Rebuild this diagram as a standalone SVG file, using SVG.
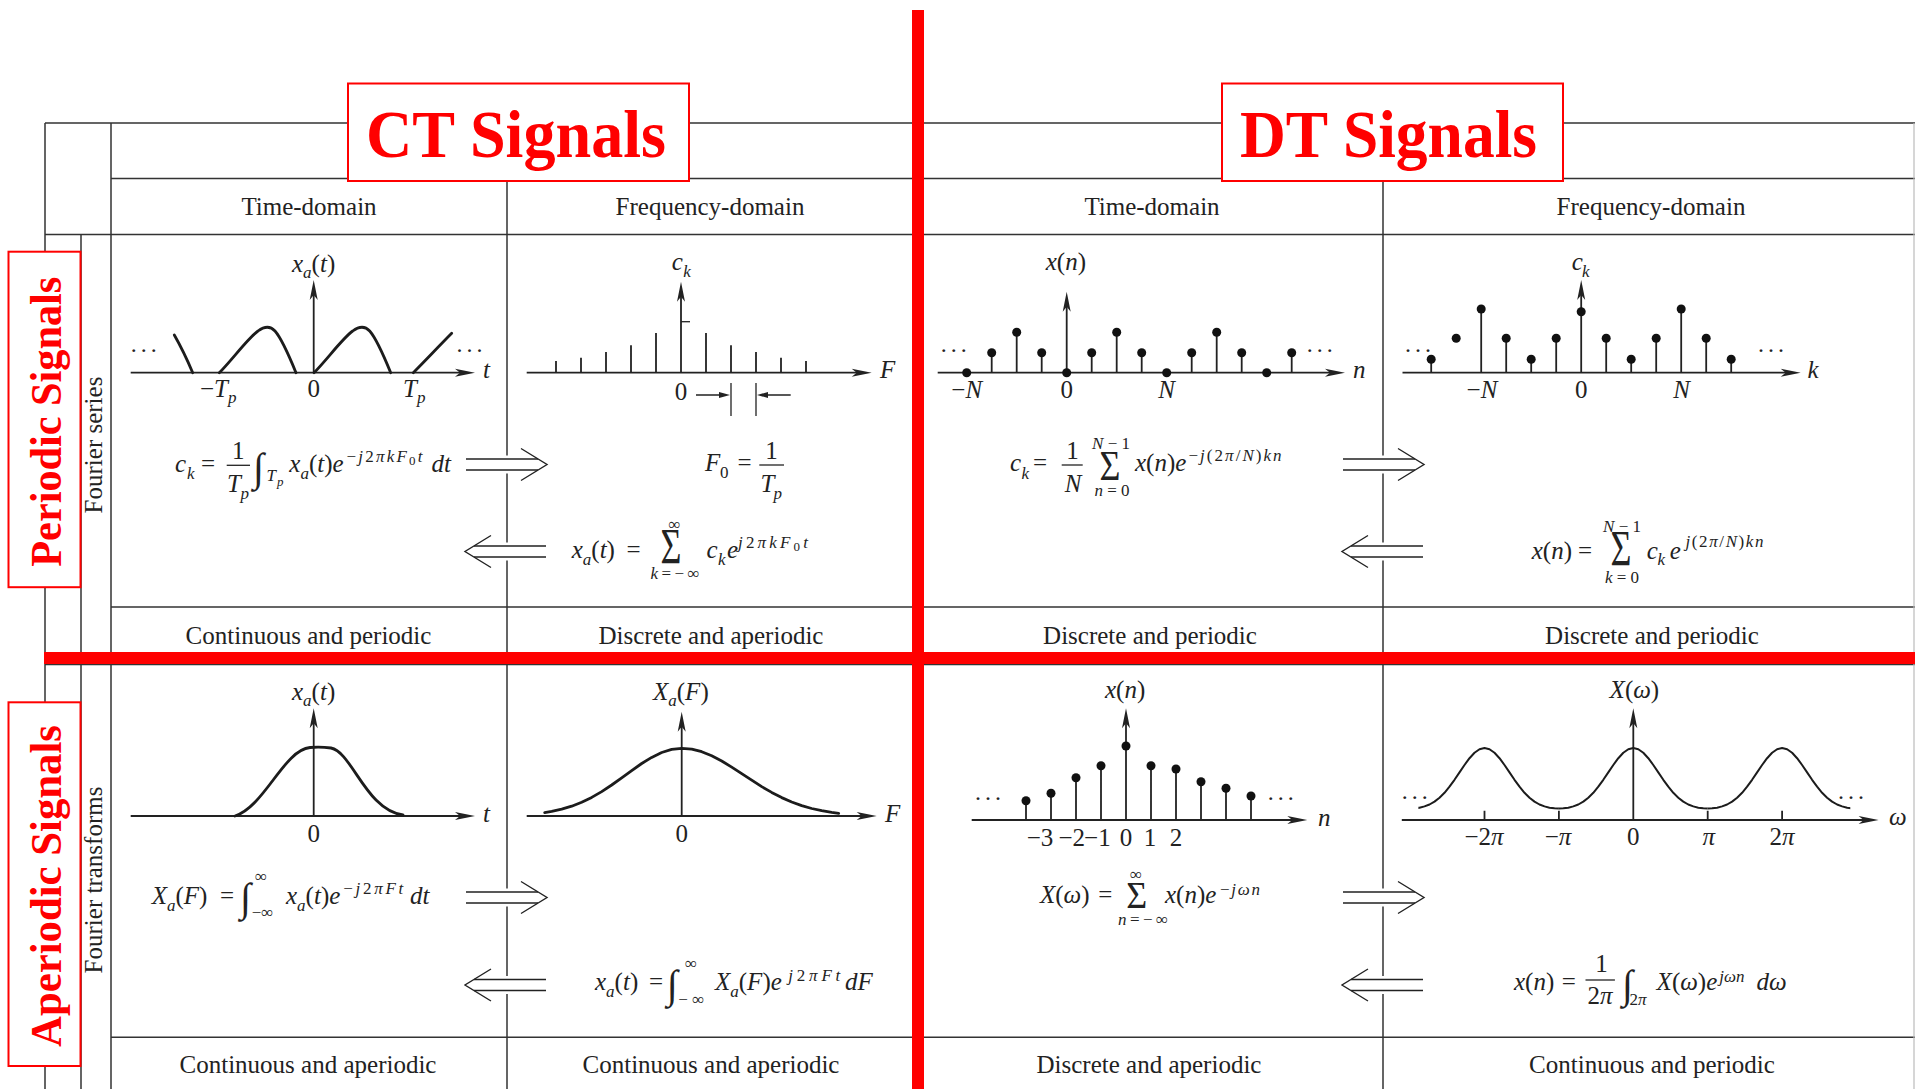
<svg xmlns="http://www.w3.org/2000/svg" xmlns:xlink="http://www.w3.org/1999/xlink" width="1915" height="1089" viewBox="0 0 1915 1089">
<style>
.f{font-family:"Liberation Serif","Times New Roman",serif;fill:#222}
.t{font-size:25px;text-anchor:middle}
.m{font-size:25px}
.s{font-size:17px}
.x{font-size:13px}
.i{font-style:italic}
.c{text-anchor:middle}
.e{text-anchor:end}
.int{font-size:40px;font-style:italic}
.sig{font-size:36px;text-anchor:middle}
.dots{font-size:24px;letter-spacing:2px}
.g{stroke:#333;stroke-width:1.5;fill:none}
.ax{stroke:#222;stroke-width:1.8;fill:none}
.thin{stroke:#222;stroke-width:1.3;fill:none}
.fr{stroke:#222;stroke-width:1.3}
.cv{stroke:#1c1c1c;stroke-width:2.8;fill:none;stroke-linecap:round;stroke-linejoin:round}
.cv2{stroke:#1c1c1c;stroke-width:2;fill:none;stroke-linejoin:round}
.stm{stroke:#222;stroke-width:1.8}
.dt{fill:#111}
.hl{stroke:#222;stroke-width:1.4;fill:none}
.rb{fill:#fff;stroke:#ff0000;stroke-width:2}
.rt{font-family:"Liberation Serif","Times New Roman",serif;font-weight:bold;fill:#ff0000}
.ah{fill:#222}
</style>
<defs>
<path id="ar" class="ah" d="M0,0 L-20,-4 L-15,0 L-20,4 Z"/>
<path id="au" class="ah" d="M0,0 L-4,20 L0,15 L4,20 Z"/>
<path id="sr" class="ah" d="M0,0 L-11,-3 L-11,3 Z"/>
<path id="sl" class="ah" d="M0,0 L11,-3 L11,3 Z"/>
<g id="hra"><rect x="0" y="-9" width="73" height="18" fill="#fff"/><path class="hl" d="M0,-5.5 H72 M0,5.5 H72"/><path class="hl" d="M55,-16 L81,0 L55,16"/></g>
<g id="hla"><rect x="8" y="-9" width="73" height="18" fill="#fff"/><path class="hl" d="M81,-5.5 H9 M81,5.5 H9"/><path class="hl" d="M26,-16 L0,0 L26,16"/></g>
<path id="lobe" d="M-74.4,808.5 L-70,808.3 L-65,807.7 L-60,806.4 L-55,804.5 L-50,801.6 L-45,797.7 L-40,792.8 L-35,786.7 L-30,779.8 L-25,772.4 L-20,765 L-15,758.2 L-10,752.8 L-5,749.2 L0,748 L5,749.2 L10,752.8 L15,758.2 L20,765 L25,772.4 L30,779.8 L35,786.7 L40,792.8 L45,797.7 L50,801.6 L55,804.5 L60,806.4 L65,807.7 L70,808.3 L74.4,808.5"/>
<clipPath id="cw"><rect x="1418.4" y="700" width="431.9" height="130"/></clipPath>
</defs>
<rect width="1915" height="1089" fill="#fff"/>

<g id="grid">
<path class="g" d="M45,123 H1915 M111,178.5 H1915 M45,234.5 H1915 M111,607 H1915 M45,664.5 H1915 M111,1037.3 H1915"/>
<path class="g" d="M45,123 V1089 M81,234.5 V1089 M111,123 V1089 M507,178.5 V1089 M1383,178.5 V1089"/>
<path d="M1914,123 V1089" stroke="#bbb" stroke-width="1.2"/>
</g>

<g id="headers">
<text class="f t" x="309" y="214.5">Time-domain</text>
<text class="f t" x="710" y="214.5">Frequency-domain</text>
<text class="f t" x="1152" y="214.5">Time-domain</text>
<text class="f t" x="1651" y="214.5">Frequency-domain</text>
<text class="f t" transform="translate(101.5,445) rotate(-90)">Fourier series</text>
<text class="f t" transform="translate(101.5,880) rotate(-90)">Fourier transforms</text>
</g>

<g id="footers">
<text class="f t" x="308.5" y="644">Continuous and periodic</text>
<text class="f t" x="711" y="644">Discrete and aperiodic</text>
<text class="f t" x="1150" y="644">Discrete and periodic</text>
<text class="f t" x="1652" y="644">Discrete and periodic</text>
<text class="f t" x="308" y="1072.5">Continuous and aperiodic</text>
<text class="f t" x="711" y="1072.5">Continuous and aperiodic</text>
<text class="f t" x="1149" y="1072.5">Discrete and aperiodic</text>
<text class="f t" x="1652" y="1072.5">Continuous and periodic</text>
</g>

<!-- Row 1, CT time -->
<g id="ct-periodic-time">
<line class="ax" x1="130.7" y1="372.7" x2="462" y2="372.7"/>
<use xlink:href="#ar" x="475" y="372.7"/>
<line class="ax" x1="313.7" y1="372.7" x2="313.7" y2="293"/>
<use xlink:href="#au" x="313.7" y="280"/>
<path class="cv" d="M174.3,335 Q184,352 192.7,372.7"/>
<path class="cv" d="M219.3,372.7 C232,360 248,338 258,331 C264,326.5 270,325.5 275,331 C282,339 290,358 296,372.7"/>
<path class="cv" d="M314,372.7 C326.7,360 342.7,338 352.7,331 C358.7,326.5 364.7,325.5 369.7,331 C376.7,339 384.7,358 390.7,372.7"/>
<path class="cv" d="M413.3,372.7 C425,361 440,345 451.7,333.3"/>
<text class="f m" x="292" y="271.7"><tspan class="i">x</tspan><tspan class="s i" dy="6">a</tspan><tspan dy="-6">(</tspan><tspan class="i">t</tspan>)</text>
<text class="f m" x="200" y="396.7">−<tspan class="i">T</tspan><tspan class="s i" dy="6">p</tspan></text>
<text class="f m c" x="313.7" y="396.7">0</text>
<text class="f m" x="403" y="396.7"><tspan class="i">T</tspan><tspan class="s i" dy="6">p</tspan></text>
<text class="f m i" x="483" y="378">t</text>
<text class="f dots" x="129.7" y="358">···</text>
<text class="f dots" x="455.5" y="358">···</text>
<text class="f m i" x="175" y="471.5">c</text>
<text class="f s i" x="187" y="479">k</text>
<text class="f m" x="201" y="471.5">=</text>
<text class="f m c" x="238.3" y="459.3">1</text>
<line class="fr" x1="226.7" y1="465.3" x2="250" y2="465.3"/>
<text class="f m i" x="227" y="492">T</text>
<text class="f s i" x="240.5" y="499">p</text>
<text class="f int" x="253" y="481">∫</text>
<text class="f s i" x="266.5" y="481">T</text>
<text class="f x i" x="277" y="486">p</text>
<text class="f m" x="289.3" y="471.5"><tspan class="i">x</tspan><tspan class="s i" dy="7">a</tspan><tspan dy="-7">(</tspan><tspan class="i">t</tspan>)<tspan class="i">e</tspan></text>
<text class="f s" x="346.5" y="462" textLength="76">−<tspan class="i">j</tspan>2<tspan class="i">πkF</tspan><tspan class="x" dy="3">0</tspan><tspan class="i" dy="-3">t</tspan></text>
<text class="f m i" x="431.5" y="471.5">dt</text>
</g>

<!-- Row 1, CT frequency -->
<g id="ct-periodic-freq">
<line class="ax" x1="526.7" y1="372.7" x2="859" y2="372.7"/>
<use xlink:href="#ar" x="871.7" y="372.7"/>
<line class="ax" x1="681" y1="372.7" x2="681" y2="295"/>
<use xlink:href="#au" x="681" y="281.7"/>
<line class="thin" x1="681" y1="321.7" x2="690" y2="321.7"/>
<path class="stm" d="M556,372.7 V361 M581,372.7 V357.7 M606,372.7 V352 M631,372.7 V345.3 M656,372.7 V333 M706,372.7 V333 M731,372.7 V345.3 M756,372.7 V352 M781,372.7 V357.7 M806,372.7 V361"/>
<path class="thin" d="M731,383 V416 M756,383 V416 M696,395 H722 M765,395 H790.7"/>
<use xlink:href="#sr" x="730" y="395"/>
<use xlink:href="#sl" x="757" y="395"/>
<text class="f m i" x="671.7" y="270">c</text>
<text class="f s i" x="683.3" y="276.5">k</text>
<text class="f m i" x="880" y="378">F</text>
<text class="f m c" x="681" y="399.5">0</text>
<text class="f m i" x="705" y="471.3">F</text>
<text class="f s" x="720" y="478">0</text>
<text class="f m" x="737.5" y="471.3">=</text>
<text class="f m c" x="771.5" y="459.3">1</text>
<line class="fr" x1="759.3" y1="465" x2="784" y2="465"/>
<text class="f m i" x="760.5" y="492">T</text>
<text class="f s i" x="773.5" y="499">p</text>
<text class="f m" x="571.7" y="558"><tspan class="i">x</tspan><tspan class="s i" dy="7">a</tspan><tspan dy="-7">(</tspan><tspan class="i">t</tspan>)</text>
<text class="f m" x="626.5" y="558">=</text>
<text class="f sig" transform="translate(671,563) scale(1,1.38)">Σ</text>
<text class="f s c" x="674.5" y="530">∞</text>
<text class="f s c" x="675" y="579" textLength="49"><tspan class="i">k</tspan>=−∞</text>
<text class="f m i" x="706.5" y="558">c</text>
<text class="f s i" x="718" y="565">k</text>
<text class="f m i" x="727" y="558">e</text>
<text class="f s" x="738" y="548" textLength="70"><tspan class="i">j</tspan>2<tspan class="i">πkF</tspan><tspan class="x" dy="3">0</tspan><tspan class="i" dy="-3">t</tspan></text>
</g>

<!-- Row 1, DT time -->
<g id="dt-periodic-time">
<line class="ax" x1="937.7" y1="372.7" x2="1332" y2="372.7"/>
<use xlink:href="#ar" x="1345" y="372.7"/>
<line class="ax" x1="1066.7" y1="372.7" x2="1066.7" y2="305"/>
<use xlink:href="#au" x="1066.7" y="291.7"/>
<path class="stm" d="M991.7,372.7 V352.7 M1016.7,372.7 V332.3 M1041.7,372.7 V352.7 M1091.7,372.7 V352.7 M1116.7,372.7 V332.3 M1141.7,372.7 V352.7 M1191.7,372.7 V352.7 M1216.7,372.7 V332.3 M1241.7,372.7 V352.7 M1291.7,372.7 V352.7"/>
<g class="dt">
<circle cx="966.7" cy="372.7" r="4.5"/><circle cx="991.7" cy="352.7" r="4.5"/><circle cx="1016.7" cy="332.3" r="4.5"/><circle cx="1041.7" cy="352.7" r="4.5"/><circle cx="1066.7" cy="372.7" r="4.5"/><circle cx="1091.7" cy="352.7" r="4.5"/><circle cx="1116.7" cy="332.3" r="4.5"/><circle cx="1141.7" cy="352.7" r="4.5"/><circle cx="1166.7" cy="372.7" r="4.5"/><circle cx="1191.7" cy="352.7" r="4.5"/><circle cx="1216.7" cy="332.3" r="4.5"/><circle cx="1241.7" cy="352.7" r="4.5"/><circle cx="1266.7" cy="372.7" r="4.5"/><circle cx="1291.7" cy="352.7" r="4.5"/>
</g>
<text class="f m" x="1045.7" y="270"><tspan class="i">x</tspan>(<tspan class="i">n</tspan>)</text>
<text class="f m i" x="1353" y="378">n</text>
<text class="f m c" x="966.7" y="398">−<tspan class="i">N</tspan></text>
<text class="f m c" x="1066.7" y="398">0</text>
<text class="f m c i" x="1166.7" y="398">N</text>
<text class="f dots" x="939.7" y="358">···</text>
<text class="f dots" x="1305.7" y="358">···</text>
<text class="f m i" x="1010" y="471.3">c</text>
<text class="f s i" x="1021.5" y="478.5">k</text>
<text class="f m" x="1033" y="471.3">=</text>
<text class="f m c" x="1072.5" y="459.3">1</text>
<line class="fr" x1="1061.7" y1="465" x2="1082.7" y2="465"/>
<text class="f m i c" x="1073" y="491.7">N</text>
<text class="f sig" transform="translate(1110,480) scale(1,1.15)">Σ</text>
<text class="f s c" x="1111" y="449"><tspan class="i">N</tspan> − 1</text>
<text class="f s c" x="1112" y="496"><tspan class="i">n</tspan> = 0</text>
<text class="f m" x="1135" y="471.3"><tspan class="i">x</tspan>(<tspan class="i">n</tspan>)<tspan class="i">e</tspan></text>
<text class="f s" x="1188.5" y="461" textLength="93">−<tspan class="i">j</tspan>(2<tspan class="i">π</tspan>/<tspan class="i">N</tspan>)<tspan class="i">kn</tspan></text>
</g>

<!-- Row 1, DT frequency -->
<g id="dt-periodic-freq">
<line class="ax" x1="1402.5" y1="372.7" x2="1788" y2="372.7"/>
<use xlink:href="#ar" x="1800.7" y="372.7"/>
<line class="ax" x1="1581.2" y1="372.7" x2="1581.2" y2="293"/>
<use xlink:href="#au" x="1581.2" y="280"/>
<path class="stm" d="M1431.2,372.7 V359.3 M1481.2,372.7 V309 M1506.2,372.7 V338.3 M1531.2,372.7 V359.3 M1556.2,372.7 V338.3 M1606.2,372.7 V338.3 M1631.2,372.7 V359.3 M1656.2,372.7 V338.3 M1681.2,372.7 V309 M1706.2,372.7 V338.3 M1731.2,372.7 V359.3"/>
<g class="dt">
<circle cx="1431.2" cy="359.3" r="4.5"/><circle cx="1456.2" cy="338.3" r="4.5"/><circle cx="1481.2" cy="309" r="4.5"/><circle cx="1506.2" cy="338.3" r="4.5"/><circle cx="1531.2" cy="359.3" r="4.5"/><circle cx="1556.2" cy="338.3" r="4.5"/><circle cx="1581.2" cy="311.7" r="4.5"/><circle cx="1606.2" cy="338.3" r="4.5"/><circle cx="1631.2" cy="359.3" r="4.5"/><circle cx="1656.2" cy="338.3" r="4.5"/><circle cx="1681.2" cy="309" r="4.5"/><circle cx="1706.2" cy="338.3" r="4.5"/><circle cx="1731.2" cy="359.3" r="4.5"/>
</g>
<text class="f m i" x="1571.7" y="270">c</text>
<text class="f s i" x="1582" y="277">k</text>
<text class="f m i" x="1807.5" y="378">k</text>
<text class="f m c" x="1482" y="398">−<tspan class="i">N</tspan></text>
<text class="f m c" x="1581.2" y="398">0</text>
<text class="f m c i" x="1681.5" y="398">N</text>
<text class="f dots" x="1404" y="358">···</text>
<text class="f dots" x="1757" y="358">···</text>
<text class="f m" x="1531.7" y="558.5"><tspan class="i">x</tspan>(<tspan class="i">n</tspan>)</text>
<text class="f m" x="1578" y="558.5">=</text>
<text class="f sig" transform="translate(1621,565) scale(1,1.4)">Σ</text>
<text class="f s c" x="1622" y="531.5"><tspan class="i">N</tspan> − 1</text>
<text class="f s c" x="1622" y="582.5"><tspan class="i">k</tspan> = 0</text>
<text class="f m i" x="1646.7" y="558.5">c</text>
<text class="f s i" x="1657.5" y="565">k</text>
<text class="f m i" x="1669.7" y="558.5">e</text>
<text class="f s" x="1685.5" y="547" textLength="78"><tspan class="i">j</tspan>(2<tspan class="i">π</tspan>/<tspan class="i">N</tspan>)<tspan class="i">kn</tspan></text>
</g>

<!-- Row 2, CT time -->
<g id="ct-aperiodic-time">
<line class="ax" x1="130.7" y1="816" x2="462" y2="816"/>
<use xlink:href="#ar" x="475" y="816"/>
<line class="ax" x1="313.7" y1="816" x2="313.7" y2="721"/>
<use xlink:href="#au" x="313.7" y="708.3"/>
<path class="cv" d="M235,816 C265,806 284,750 310,747.5 Q320,746.5 331,748 C352,752 366,810 403,815"/>
<text class="f m" x="292" y="700"><tspan class="i">x</tspan><tspan class="s i" dy="6">a</tspan><tspan dy="-6">(</tspan><tspan class="i">t</tspan>)</text>
<text class="f m c" x="313.7" y="841.7">0</text>
<text class="f m i" x="483" y="821.7">t</text>
<text class="f m" x="151.7" y="903.6"><tspan class="i">X</tspan><tspan class="s i" dy="7">a</tspan><tspan dy="-7">(</tspan><tspan class="i">F</tspan>)</text>
<text class="f m" x="220" y="903.6">=</text>
<text class="f int" x="240" y="911">∫</text>
<text class="f s" x="255" y="882">∞</text>
<text class="f s" x="251.7" y="918">−∞</text>
<text class="f m" x="286" y="903.6"><tspan class="i">x</tspan><tspan class="s i" dy="7">a</tspan><tspan dy="-7">(</tspan><tspan class="i">t</tspan>)<tspan class="i">e</tspan></text>
<text class="f s" x="343.3" y="894" textLength="60">−<tspan class="i">j</tspan>2<tspan class="i">πFt</tspan></text>
<text class="f m i" x="410" y="903.6">dt</text>
</g>

<!-- Row 2, CT frequency -->
<g id="ct-aperiodic-freq">
<line class="ax" x1="526.7" y1="816" x2="864" y2="816"/>
<use xlink:href="#ar" x="876.7" y="816"/>
<line class="ax" x1="681.7" y1="816" x2="681.7" y2="724"/>
<use xlink:href="#au" x="681.7" y="711.7"/>
<path class="cv" d="M544.7,812.6 L551.7,811.4 L561.7,809.2 L571.7,806.2 L581.7,802.3 L591.7,797.4 L601.7,791.6 L611.7,785 L621.7,777.9 L631.7,770.6 L641.7,763.5 L651.7,757.4 L661.7,752.5 L671.7,749.4 L681.7,748.3 L691.7,749.2 L701.7,751.7 L711.7,755.8 L721.7,761 L731.7,767.1 L741.7,773.6 L751.7,780.2 L761.7,786.6 L771.7,792.4 L781.7,797.6 L791.7,802 L801.7,805.6 L811.7,808.5 L821.7,810.7 L831.7,812.4 L838.7,813.3"/>
<text class="f m" x="653" y="700"><tspan class="i">X</tspan><tspan class="s i" dy="6">a</tspan><tspan dy="-6">(</tspan><tspan class="i">F</tspan>)</text>
<text class="f m i" x="885" y="821.7">F</text>
<text class="f m c" x="681.7" y="841.7">0</text>
<text class="f m" x="595" y="989.6"><tspan class="i">x</tspan><tspan class="s i" dy="7">a</tspan><tspan dy="-7">(</tspan><tspan class="i">t</tspan>)</text>
<text class="f m" x="649" y="989.6">=</text>
<text class="f int" x="666.7" y="997.5">∫</text>
<text class="f s" x="685" y="968.5">∞</text>
<text class="f s" x="678.3" y="1005">− ∞</text>
<text class="f m" x="715" y="989.6"><tspan class="i">X</tspan><tspan class="s i" dy="7">a</tspan><tspan dy="-7">(</tspan><tspan class="i">F</tspan>)<tspan class="i">e</tspan></text>
<text class="f s" x="788.3" y="981" textLength="52"><tspan class="i">j</tspan>2<tspan class="i">πFt</tspan></text>
<text class="f m i" x="845" y="989.6">dF</text>
</g>

<!-- Row 2, DT time -->
<g id="dt-aperiodic-time">
<line class="ax" x1="971.7" y1="820" x2="1294" y2="820"/>
<use xlink:href="#ar" x="1307.3" y="820"/>
<line class="ax" x1="1126" y1="820" x2="1126" y2="721"/>
<use xlink:href="#au" x="1126" y="708.3"/>
<path class="stm" d="M1026,820 V800.7 M1051,820 V793.3 M1076,820 V777.7 M1101,820 V765.7 M1151,820 V765.7 M1176,820 V769 M1201,820 V781.7 M1226,820 V788.3 M1251,820 V796"/>
<g class="dt">
<circle cx="1026" cy="800.7" r="4.5"/><circle cx="1051" cy="793.3" r="4.5"/><circle cx="1076" cy="777.7" r="4.5"/><circle cx="1101" cy="765.7" r="4.5"/><circle cx="1126" cy="746" r="4.5"/><circle cx="1151" cy="765.7" r="4.5"/><circle cx="1176" cy="769" r="4.5"/><circle cx="1201" cy="781.7" r="4.5"/><circle cx="1226" cy="788.3" r="4.5"/><circle cx="1251" cy="796" r="4.5"/>
</g>
<text class="f m" x="1105" y="698.3"><tspan class="i">x</tspan>(<tspan class="i">n</tspan>)</text>
<text class="f m i" x="1318" y="826">n</text>
<text class="f m e" x="1053.3" y="846">−3</text>
<text class="f m e" x="1085" y="846">−2</text>
<text class="f m e" x="1110.7" y="846">−1</text>
<text class="f m c" x="1126" y="846">0</text>
<text class="f m c" x="1150" y="846">1</text>
<text class="f m c" x="1176" y="846">2</text>
<text class="f dots" x="974" y="806">···</text>
<text class="f dots" x="1266.7" y="806">···</text>
<text class="f m" x="1040" y="903"><tspan class="i">X</tspan>(<tspan class="i">ω</tspan>)</text>
<text class="f m" x="1098.3" y="903">=</text>
<text class="f sig" transform="translate(1136.7,908.3) scale(1,1.05)">Σ</text>
<text class="f s c" x="1136" y="879.5">∞</text>
<text class="f s c" x="1143" y="925" textLength="50"><tspan class="i">n</tspan>=−∞</text>
<text class="f m" x="1165" y="903"><tspan class="i">x</tspan>(<tspan class="i">n</tspan>)<tspan class="i">e</tspan></text>
<text class="f s" x="1220" y="895" textLength="40">−<tspan class="i">jωn</tspan></text>
</g>

<!-- Row 2, DT frequency -->
<g id="dt-aperiodic-freq">
<line class="ax" x1="1401.8" y1="820" x2="1865" y2="820"/>
<use xlink:href="#ar" x="1878.6" y="820"/>
<line class="ax" x1="1633.3" y1="820" x2="1633.3" y2="721"/>
<use xlink:href="#au" x="1633.3" y="708.3"/>
<path class="ax" d="M1484.5,820 V810.7 M1558.9,820 V810.7 M1707.7,820 V810.7 M1782.1,820 V810.7"/>
<g clip-path="url(#cw)" class="cv2">
<use xlink:href="#lobe" x="1335.7"/>
<use xlink:href="#lobe" x="1484.5"/>
<use xlink:href="#lobe" x="1633.3"/>
<use xlink:href="#lobe" x="1782.1"/>
<use xlink:href="#lobe" x="1930.9"/>
</g>
<text class="f m" x="1609.6" y="698.3"><tspan class="i">X</tspan>(<tspan class="i">ω</tspan>)</text>
<text class="f m i" x="1889" y="825">ω</text>
<text class="f m c" x="1484" y="845">−2<tspan class="i">π</tspan></text>
<text class="f m c" x="1558" y="845">−<tspan class="i">π</tspan></text>
<text class="f m c" x="1633.3" y="845">0</text>
<text class="f m c i" x="1708.7" y="845">π</text>
<text class="f m c" x="1782" y="845">2<tspan class="i">π</tspan></text>
<text class="f dots" x="1400.8" y="805">···</text>
<text class="f dots" x="1837" y="805">···</text>
<text class="f m" x="1514" y="989.6"><tspan class="i">x</tspan>(<tspan class="i">n</tspan>)</text>
<text class="f m" x="1561.8" y="989.6">=</text>
<text class="f m c" x="1601.5" y="971.7">1</text>
<line class="fr" x1="1585.5" y1="980" x2="1614.9" y2="980"/>
<text class="f m c" x="1600" y="1003.5">2<tspan class="i">π</tspan></text>
<text class="f int" x="1622" y="997.5">∫</text>
<text class="f s" x="1629.5" y="1005">2<tspan class="i">π</tspan></text>
<text class="f m" x="1656.6" y="989.6"><tspan class="i">X</tspan>(<tspan class="i">ω</tspan>)<tspan class="i">e</tspan></text>
<text class="f s i" x="1719.3" y="982">jωn</text>
<text class="f m i" x="1756.5" y="989.6">dω</text>
</g>

<g id="connectors">
<use xlink:href="#hra" transform="translate(466,464.5)"/>
<use xlink:href="#hla" transform="translate(465,551.5)"/>
<use xlink:href="#hra" transform="translate(1343,464.5)"/>
<use xlink:href="#hla" transform="translate(1342,551.5)"/>
<use xlink:href="#hra" transform="translate(466,897.5)"/>
<use xlink:href="#hla" transform="translate(465,985)"/>
<use xlink:href="#hra" transform="translate(1343,897.5)"/>
<use xlink:href="#hla" transform="translate(1342,985)"/>
</g>

<g id="ct-title">
<rect class="rb" x="348" y="83.5" width="341" height="97.5"/>
<text class="rt" x="516" y="156.7" font-size="68" text-anchor="middle" textLength="300" lengthAdjust="spacingAndGlyphs">CT Signals</text>
</g>
<g id="dt-title">
<rect class="rb" x="1222" y="83.5" width="341" height="97.5"/>
<text class="rt" x="1388.5" y="156.7" font-size="68" text-anchor="middle" textLength="297" lengthAdjust="spacingAndGlyphs">DT Signals</text>
</g>
<g id="periodic-title">
<rect class="rb" x="8.5" y="251.7" width="72" height="335.5"/>
<text class="rt" font-size="45" text-anchor="middle" textLength="290" lengthAdjust="spacingAndGlyphs" transform="translate(61,421.7) rotate(-90)">Periodic Signals</text>
</g>
<g id="aperiodic-title">
<rect class="rb" x="8.5" y="702.3" width="72" height="363.7"/>
<text class="rt" font-size="45" text-anchor="middle" textLength="322" lengthAdjust="spacingAndGlyphs" transform="translate(61,886) rotate(-90)">Aperiodic Signals</text>
</g>

<g id="dividers">
<rect x="912" y="10" width="12" height="1079" fill="#ff0000"/>
<rect x="44" y="652" width="1871" height="12" fill="#ff0000"/>
</g>
</svg>
